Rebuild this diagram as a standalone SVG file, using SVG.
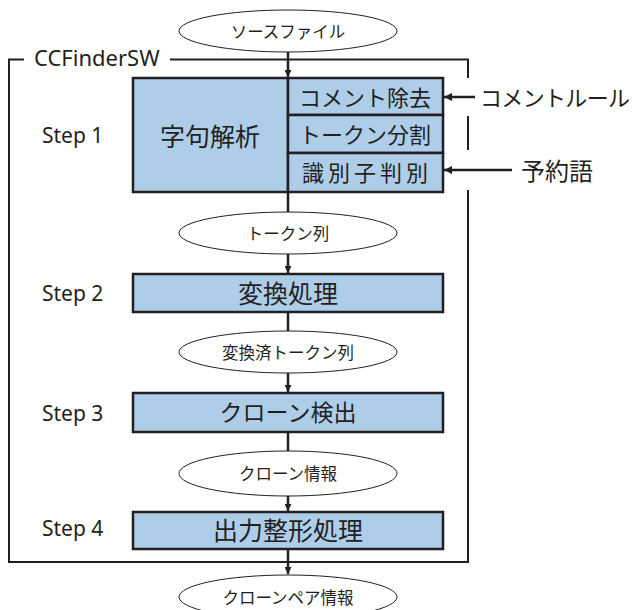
<svg xmlns="http://www.w3.org/2000/svg" width="635" height="610" viewBox="0 0 635 610">
<defs>
<marker id="ah" viewBox="0 0 10 10" refX="10" refY="5" markerWidth="7" markerHeight="7" markerUnits="userSpaceOnUse" orient="auto">
<path d="M0,0 L10,5 L0,10 z" fill="#231f20"/>
</marker>
<marker id="ah2" viewBox="0 0 10 10" refX="10" refY="5" markerWidth="8" markerHeight="8" markerUnits="userSpaceOnUse" orient="auto">
<path d="M0,0 L10,5 L0,10 z" fill="#231f20"/>
</marker>
</defs>
<style>
.box{fill:#aecde9;stroke:#231f20;stroke-width:2.5}
.ell{fill:#fff;stroke:#231f20;stroke-width:1}
.frame{fill:none;stroke:#231f20;stroke-width:2}
.conn{fill:none;stroke:#231f20;stroke-width:2.5}
.t{font-family:"Noto Sans","Noto Sans CJK JP",sans-serif;fill:#231f20;dominant-baseline:central;text-anchor:middle}
.lat{font-family:"Noto Sans","Noto Sans CJK JP",sans-serif;fill:#231f20;font-size:21px}
.big{font-size:25px}
.sub{font-size:22px}
.small{font-size:16.5px}
</style>
<rect width="635" height="610" fill="#fff"/>

<g id="frame">
<path class="frame" d="M24,59.5 H9 V562 H468 V190 M468,150 V116 M468,78 V59.5 H170"/>
<text class="lat" x="34" y="66" style="font-size:22px">CCFinderSW</text>
</g>

<g id="connectors">
<line class="conn" x1="288" y1="52" x2="288" y2="77" marker-end="url(#ah)"/>
<line class="conn" x1="288" y1="192" x2="288" y2="212"/>
<line class="conn" x1="288" y1="254" x2="288" y2="273" marker-end="url(#ah)"/>
<line class="conn" x1="288" y1="312" x2="288" y2="331"/>
<line class="conn" x1="288" y1="373" x2="288" y2="392" marker-end="url(#ah)"/>
<line class="conn" x1="288" y1="432" x2="288" y2="451"/>
<line class="conn" x1="288" y1="496" x2="288" y2="511" marker-end="url(#ah)"/>
<line class="conn" x1="288" y1="549" x2="288" y2="574" marker-end="url(#ah)"/>
<line class="conn" x1="475" y1="97" x2="444" y2="97" marker-end="url(#ah2)"/>
<line class="conn" x1="512" y1="170" x2="444" y2="170" marker-end="url(#ah2)"/>
</g>

<g id="src">
<ellipse class="ell" cx="288" cy="31" rx="109" ry="21"/>
<text class="t small" x="288" y="31">ソースファイル</text>
</g>

<g id="step1">
<text class="lat" x="42" y="143">Step 1</text>
<rect class="box" x="133" y="78" width="155" height="114"/>
<text class="t big" x="210" y="136">字句解析</text>
</g>
<g id="comment-removal">
<rect class="box" x="288" y="78" width="155" height="37"/>
<text class="t sub" x="365" y="97">コメント除去</text>
</g>
<g id="token-split">
<rect class="box" x="288" y="115" width="155" height="38"/>
<text class="t sub" x="365" y="134">トークン分割</text>
</g>
<g id="ident">
<rect class="box" x="288" y="153" width="155" height="39"/>
<text class="t sub" x="365" y="172" textLength="126">識別子判別</text>
</g>
<g id="comment-rule">
<text class="t sub" x="555" y="97" textLength="150">コメントルール</text>
</g>
<g id="reserved">
<text class="t" x="557" y="170" style="font-size:24px">予約語</text>
</g>

<g id="tokens">
<ellipse class="ell" cx="288" cy="233" rx="109" ry="21"/>
<text class="t small" x="288" y="233">トークン列</text>
</g>

<g id="step2">
<text class="lat" x="42" y="301">Step 2</text>
<rect class="box" x="133" y="274" width="310" height="38"/>
<text class="t big" x="288" y="293">変換処理</text>
</g>

<g id="conv-tokens">
<ellipse class="ell" cx="288" cy="352" rx="109" ry="21"/>
<text class="t small" x="288" y="352">変換済トークン列</text>
</g>

<g id="step3">
<text class="lat" x="42" y="421">Step 3</text>
<rect class="box" x="133" y="393" width="310" height="39"/>
<text class="t" x="288" y="412" style="font-size:23px">クローン検出</text>
</g>

<g id="clone-info">
<ellipse class="ell" cx="288" cy="473.5" rx="109" ry="22.5"/>
<text class="t small" x="288" y="473">クローン情報</text>
</g>

<g id="step4">
<text class="lat" x="42" y="536">Step 4</text>
<rect class="box" x="133" y="512" width="310" height="37"/>
<text class="t big" x="288" y="530">出力整形処理</text>
</g>

<g id="clone-pair">
<ellipse class="ell" cx="288" cy="597" rx="109" ry="22"/>
<text class="t small" x="288" y="597">クローンペア情報</text>
</g>
</svg>
